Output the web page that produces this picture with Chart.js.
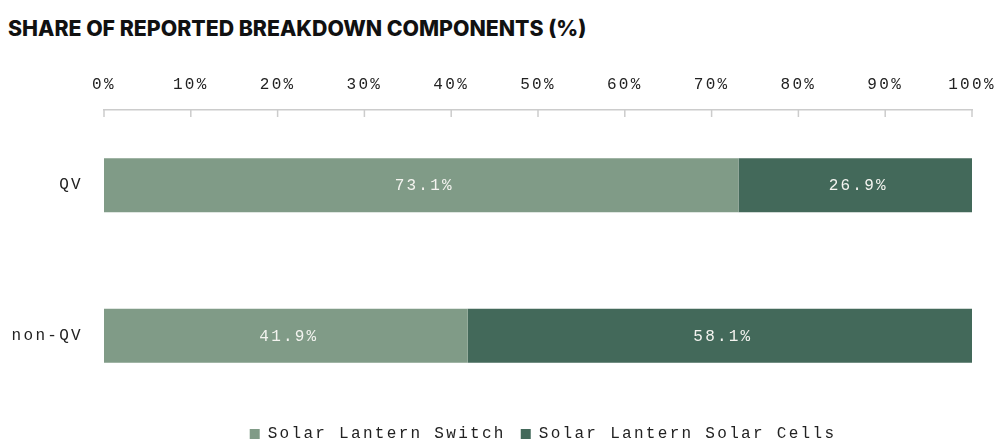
<!DOCTYPE html>
<html>
<head>
<meta charset="utf-8">
<script src="https://cdn.jsdelivr.net/npm/chart.js@4.4.1/dist/chart.umd.min.js"></script>
<style>
  html, body { margin: 0; padding: 0; background: #fff; overflow: hidden; }
  #wrap { position: relative; width: 999px; height: 439px; overflow: hidden; }
  #title {
    position: absolute; left: 8px; top: 15px;
    font-family: Inter, sans-serif; font-weight: 800; font-size: 21.3px;
    color: #111; letter-spacing: 0; white-space: nowrap;
  }
  #box { position: absolute; left: 0; top: 0; width: 999px; height: 457px; }
</style>
</head>
<body>
<div id="wrap">
  <div id="title">SHARE OF REPORTED BREAKDOWN COMPONENTS (%)</div>
  <div id="box"><canvas id="chart"></canvas></div>
</div>
<script>
const groups = ['QV', 'non-QV'];
const switchShare = [73.1, 41.9];
const cellsShare = [26.9, 58.1];
const xTicks = [0, 10, 20, 30, 40, 50, 60, 70, 80, 90, 100];

const monoFont = "'Liberation Mono', 'DejaVu Sans Mono', monospace";
const spacing = '2.3px';

// wider letter spacing for the mono texts drawn on canvas,
// and nudge the legend so it sits under the plot area like the original
const spacingPlugin = {
    id: 'spacing',
    beforeUpdate(chart) { chart.ctx.letterSpacing = spacing; },
    beforeDraw(chart) { chart.ctx.letterSpacing = spacing; },
    afterLayout(chart) {
        const lg = chart.legend;
        const shift = (chart.chartArea.left + chart.chartArea.right) / 2 + 5 - (lg.left + lg.right) / 2;
        lg.left += shift;
        lg.right += shift;
    }
};

// small tick marks hanging under the top axis line
const tickMarks = {
    id: 'tickMarks',
    afterDraw(chart) {
        const ctx = chart.ctx;
        const x = chart.scales.x;
        const top = chart.chartArea.top;
        ctx.save();
        ctx.strokeStyle = '#cccccc';
        ctx.lineWidth = 1.5;
        xTicks.forEach(function(v) {
            const px = x.getPixelForValue(v);
            ctx.beginPath();
            ctx.moveTo(px, top);
            ctx.lineTo(px, top + 7);
            ctx.stroke();
        });
        ctx.restore();
    }
};

// value labels in the middle of each bar segment
const barLabels = {
    id: 'barLabels',
    afterDatasetsDraw(chart) {
        const ctx = chart.ctx;
        ctx.save();
        ctx.font = "16px " + monoFont;
        ctx.fillStyle = '#f4f4f0';
        ctx.textAlign = 'center';
        ctx.textBaseline = 'middle';
        ctx.letterSpacing = '2.2px';
        chart.data.datasets.forEach(function(ds, i) {
            chart.getDatasetMeta(i).data.forEach(function(bar, j) {
                const cx = (bar.x + bar.base) / 2;
                ctx.fillText(ds.data[j].toFixed(1) + '%', cx + 3, bar.y + 1);
            });
        });
        ctx.restore();
    }
};

new Chart(document.getElementById('chart'), {
    type: 'bar',
    data: {
        labels: groups,
        datasets: [{
            label: 'Solar Lantern Switch',
            data: switchShare,
            backgroundColor: '#809b87',
            categoryPercentage: 1,
            barPercentage: 0.36
        }, {
            label: 'Solar Lantern Solar Cells',
            data: cellsShare,
            backgroundColor: '#43695a',
            categoryPercentage: 1,
            barPercentage: 0.36
        }]
    },
    options: {
        indexAxis: 'y',
        responsive: true,
        maintainAspectRatio: false,
        animation: false,
        layout: { padding: { top: 0, right: 27, bottom: 5, left: 0 } },
        scales: {
            x: {
                position: 'top',
                stacked: true,
                min: 0,
                max: 100,
                afterBuildTicks(axis) { axis.ticks = xTicks.map(v => ({ value: v })); },
                afterFit(axis) {
                    axis.height = 110;
                    axis.paddingRight = 0;
                },
                grid: { display: false },
                border: { display: true, color: '#cccccc', width: 1.5 },
                ticks: {
                    padding: 8,
                    color: '#222',
                    font: { family: monoFont, size: 16 },
                    maxRotation: 0,
                    callback: v => v + '%'
                }
            },
            y: {
                stacked: true,
                afterFit(axis) { axis.width = 104; },
                grid: { display: false },
                border: { display: false },
                ticks: {
                    padding: 13,
                    color: '#222',
                    font: { family: monoFont, size: 16 }
                }
            }
        },
        plugins: {
            legend: {
                position: 'bottom',
                labels: {
                    boxWidth: 10,
                    boxHeight: 10,
                    padding: 15,
                    color: '#222',
                    font: { family: monoFont, size: 16 }
                }
            },
            tooltip: { enabled: false }
        }
    },
    plugins: [spacingPlugin, tickMarks, barLabels]
});
</script>
</body>
</html>
